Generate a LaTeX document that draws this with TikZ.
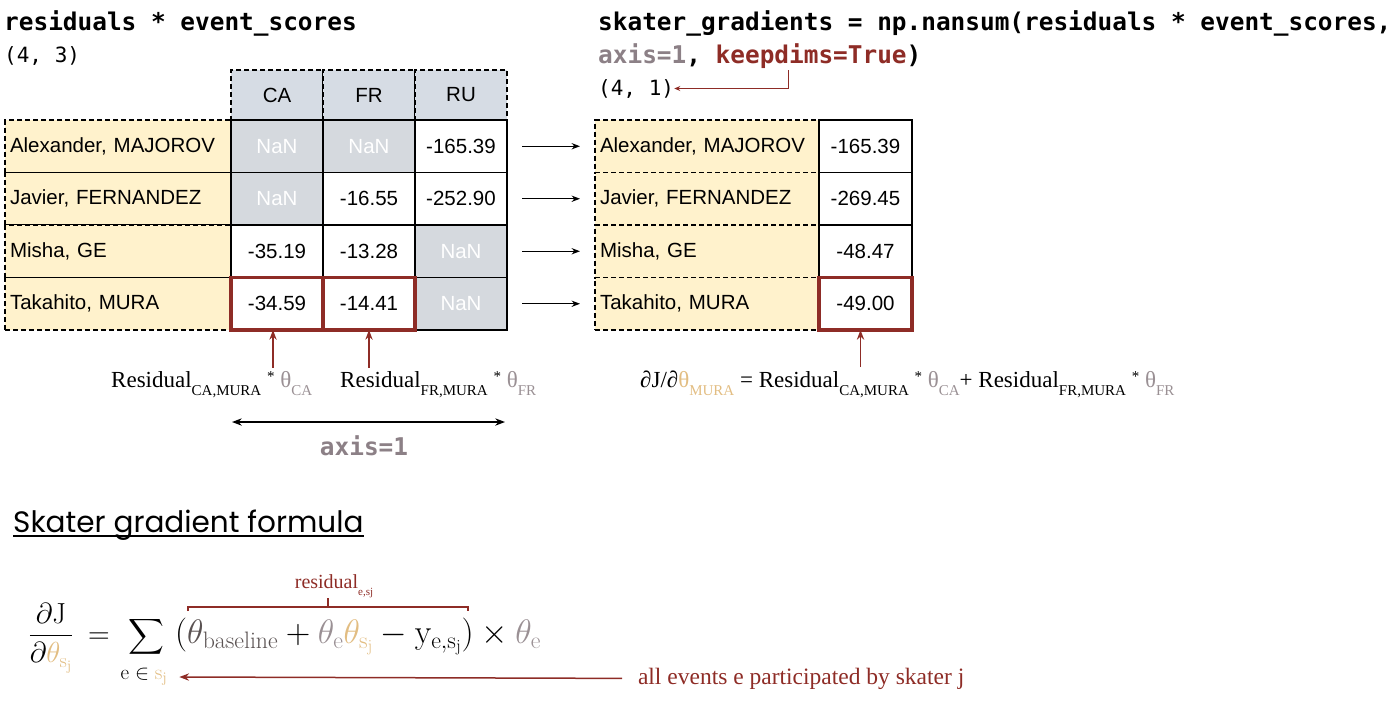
\documentclass[tikz,border=0pt]{standalone}
\usepackage{fix-cm}
\usepackage{amsmath}
\usepackage{exscale}
\usepackage{fontspec}
\usetikzlibrary{arrows.meta,positioning}
\newfontfamily\cellfont{Liberation Sans}
\newfontfamily\codefont{DejaVu Sans Mono}
\newfontfamily\labfont{Liberation Serif}
\newfontfamily\headfont{Poppins}
\definecolor{namebg}{HTML}{FFF2CC}
\definecolor{headbg}{HTML}{D6DCE4}
\definecolor{nanbg}{HTML}{D5D9DE}
\definecolor{hired}{HTML}{8E2C26}
\definecolor{axisgray}{HTML}{8C8086}
\definecolor{thgray}{HTML}{9A9094}
\definecolor{thgold}{HTML}{E2BD82}
\definecolor{basegray}{HTML}{5A5252}
\newcommand{\lsub}[1]{\raisebox{-8pt}{\fontsize{15}{15}\selectfont #1}}
\newcommand{\lstar}{\raisebox{6pt}{\fontsize{15}{15}\selectfont *}}

\begin{document}
\begin{tikzpicture}[x=1pt,y=-1pt,>={Stealth},
  cell/.style={inner sep=0pt,outer sep=0pt,minimum height=52.5pt,line width=1.2pt,font=\cellfont\fontsize{20.5}{24}\selectfont},
  namecell/.style={cell,draw,dash pattern=on 5pt off 3pt,fill=namebg,minimum width=226pt,text width=216pt,align=left},
  valcell/.style={cell,draw,fill=white,minimum width=92pt},
  nancell/.style={valcell,fill=nanbg,text=white},
  headcell/.style={cell,draw,dash pattern=on 5pt off 3pt,fill=headbg,minimum width=92pt,minimum height=50pt},
  hilite/.style={draw=hired,line width=3.4pt},
  code/.style={inner sep=0pt,font=\codefont\bfseries\fontsize{24.4}{28}\selectfont},
  shp/.style={inner sep=0pt,font=\codefont\fontsize{21}{24}\selectfont},
  lab/.style={inner sep=0pt,font=\labfont\fontsize{23}{27}\selectfont},
  rowarrow/.style={->,line width=1.2pt,shorten <=15pt,shorten >=15pt},
  uparrow/.style={->,hired,line width=1.5pt,shorten <=3pt}]
\useasboundingbox (0,0) rectangle (1400,705);

% code lines
\node[code,anchor=base west] (lhead) at (4,30) {residuals * event\_scores};
\node[shp,anchor=base west] (lshape) at (4,62) {(4, 3)};
\node[code,anchor=base west] (rhead) at (598,30) {skater\_gradients = np.nansum(residuals * event\_scores,};
\node[code,anchor=base west] (rargs) at (598,63) {\textcolor{axisgray}{axis=1}, \textcolor{hired}{keepdims=True})};
\node[shp,anchor=base west] (rshape) at (598,95) {(4, 1)};
\coordinate (kdfoot) at (788,70);
\draw[hired,line width=0.9pt,-{Stealth[length=6pt,width=5pt]}] (kdfoot) |- (rshape.east);

% left table
\node[headcell,anchor=north west] (hca) at (231,70) {CA};
\node[headcell,right=0pt of hca] (hfr) {FR};
\node[headcell,right=0pt of hfr] (hru) {RU};
\node[namecell,anchor=north west] (ln1) at (5,120) {Alexander, MAJOROV};
\node[namecell,below=0pt of ln1] (ln2) {Javier, FERNANDEZ};
\node[namecell,below=0pt of ln2] (ln3) {Misha, GE};
\node[namecell,below=0pt of ln3] (ln4) {Takahito, MURA};
\node[nancell,right=0pt of ln1] (ca1) {NaN};
\node[nancell,right=0pt of ca1] (fr1) {NaN};
\node[valcell,right=0pt of fr1] (ru1) {-165.39};
\node[nancell,right=0pt of ln2] (ca2) {NaN};
\node[valcell,right=0pt of ca2] (fr2) {-16.55};
\node[valcell,right=0pt of fr2] (ru2) {-252.90};
\node[valcell,right=0pt of ln3] (ca3) {-35.19};
\node[valcell,right=0pt of ca3] (fr3) {-13.28};
\node[nancell,right=0pt of fr3] (ru3) {NaN};
\node[valcell,right=0pt of ln4] (ca4) {-34.59};
\node[valcell,right=0pt of ca4] (fr4) {-14.41};
\node[nancell,right=0pt of fr4] (ru4) {NaN};
\draw[hilite] (ca4.south west) rectangle (ca4.north east);
\draw[hilite] (fr4.south west) rectangle (fr4.north east);

% right table
\node[namecell,minimum width=224pt,text width=214pt,anchor=north west] (rn1) at (595,120) {Alexander, MAJOROV};
\node[namecell,minimum width=224pt,text width=214pt,below=0pt of rn1] (rn2) {Javier, FERNANDEZ};
\node[namecell,minimum width=224pt,text width=214pt,below=0pt of rn2] (rn3) {Misha, GE};
\node[namecell,minimum width=224pt,text width=214pt,below=0pt of rn3] (rn4) {Takahito, MURA};
\node[valcell,minimum width=93pt,right=0pt of rn1] (rv1) {-165.39};
\node[valcell,minimum width=93pt,right=0pt of rn2] (rv2) {-269.45};
\node[valcell,minimum width=93pt,right=0pt of rn3] (rv3) {-48.47};
\node[valcell,minimum width=93pt,right=0pt of rn4] (rv4) {-49.00};
\draw[hilite] (rv4.south west) rectangle (rv4.north east);
\foreach \i in {1,...,4} \draw[rowarrow] (ru\i) -- (rn\i);

% labels under the tables
\node[lab,anchor=base west] (lblca) at (111,387) {Residual\lsub{CA,MURA} \lstar\ \textcolor{thgray}{θ\lsub{CA}}};
\node[lab,anchor=base west] (lblfr) at (340,387) {Residual\lsub{FR,MURA} \lstar\ \textcolor{thgray}{θ\lsub{FR}}};
\node[lab,anchor=base west] (lblsum) at (640,387) {∂J/∂\textcolor{thgold}{θ\lsub{MURA}} = Residual\lsub{CA,MURA} \lstar\ \textcolor{thgray}{θ\lsub{CA}}+ Residual\lsub{FR,MURA} \lstar\ \textcolor{thgray}{θ\lsub{FR}}};
\draw[uparrow] ([xshift=-4pt]ca4.south |- lblca.north) -- ([xshift=-4pt]ca4.south);
\draw[uparrow] (fr4.south |- lblfr.north) -- (fr4.south);
\draw[uparrow] ([xshift=-5pt]rv4.south |- lblsum.north) -- ([xshift=-5pt]rv4.south);
\coordinate (axl) at (232,422);
\coordinate (axr) at (505,422);
\draw[<->,line width=1.5pt] (axl) -- (axr);
\node[code,text=axisgray,anchor=base] (axlbl) at (364,455) {axis=1};

% formula
\node[inner sep=0pt,anchor=base west,font=\headfont\fontsize{29.5}{33}\selectfont] (title) at (13,532) {Skater gradient formula};
\draw[line width=1.3pt] ([yshift=-4pt]title.base west) -- ([yshift=-4pt]title.base east);
\node[inner sep=0pt,anchor=base,font=\fontsize{29}{33}\selectfont] (frac) at (51,643) {$\displaystyle\frac{\partial\mathrm{J}}{\partial\textcolor{thgold}{\theta_{\mathrm{s_j}}}}$};
\node[inner sep=0pt,anchor=base,font=\fontsize{30}{33}\selectfont] (eqs) at (99,643) {$=$};
\node[inner sep=0pt,anchor=base,font=\fontsize{26}{30}\selectfont] (sigma) at (146,643) {$\displaystyle\sum$};
\node[inner sep=0pt,outer xsep=12pt,font=\fontsize{21}{24}\selectfont] (sumidx) at (144,677) {$\mathrm{e}\in\textcolor{thgold}{\mathrm{s_j}}$};
\node[inner sep=0pt,anchor=base west,font=\fontsize{34}{38}\selectfont] (body) at (175,643)
  {$(\textcolor{basegray}{\theta_{\mathrm{baseline}}}+\textcolor{thgray}{\theta_{\mathrm{e}}}\textcolor{thgold}{\theta_{\mathrm{s_j}}}-\mathrm{y}_{\mathrm{e},\mathrm{s_j}})\times\textcolor{thgray}{\theta_{\mathrm{e}}}$};
\coordinate (brl) at (188,611);
\coordinate (brr) at (468,611);
\coordinate (brmid) at (328,607);
\draw[hired,line width=1.2pt] (brl) |- (brmid) -| (brr);
\draw[hired,line width=1.2pt] (brmid) -- ++(0,-9);
\node[lab,text=hired,anchor=base,font=\labfont\fontsize{20}{24}\selectfont] (reslbl) at (334,588) {residual\raisebox{-7pt}{\fontsize{11}{11}\selectfont e,sj}};
\node[lab,text=hired,anchor=base west,outer xsep=16pt,font=\labfont\fontsize{23.5}{27}\selectfont] (allev) at (622,684) {all events e participated by skater j};
\draw[->,hired,line width=1.5pt] (allev.west) -- (sumidx.east);
\end{tikzpicture}
\end{document}
